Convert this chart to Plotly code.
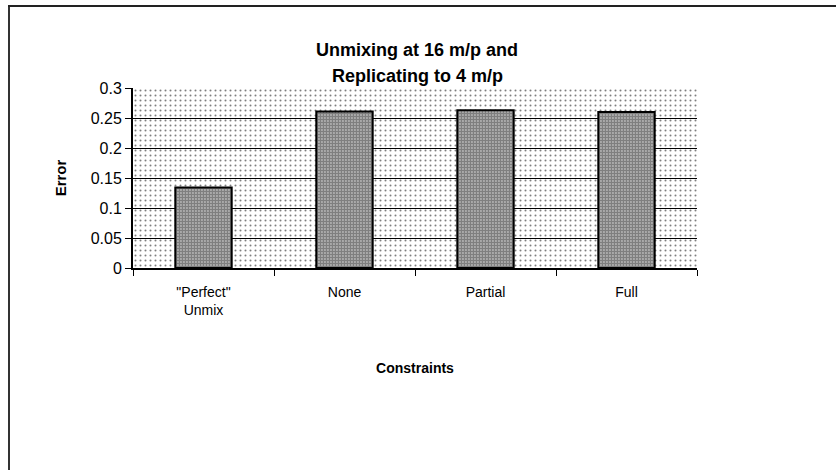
import plotly.graph_objects as go

# Data
categories = ['"Perfect"<br>Unmix', "None", "Partial", "Full"]
errors = [0.134, 0.261, 0.263, 0.260]
y_ticks = [0, 0.05, 0.1, 0.15, 0.2, 0.25, 0.3]
y_tick_labels = ["0", "0.05", "0.1", "0.15", "0.2", "0.25", "0.3"]
title_lines = ["Unmixing at 16 m/p and", "Replicating to 4 m/p"]

W, H = 836, 470
L, R, T, B = 133, 139, 88, 202  # plot-area margins in px

FONT = "Liberation Sans, Arial, sans-serif"


def px_x(px):
    return (px - L) / (W - L - R)


def px_y(py):
    return (H - B - py) / (H - T - B)


fig = go.Figure()

# Stippled plot-area background (drawn on its own hidden axes underneath)
fig.add_trace(go.Bar(
    x=[0.5], y=[1], width=[1],
    xaxis="x", yaxis="y",
    marker=dict(color="white", line=dict(width=0),
                pattern=dict(shape=".", fgcolor="black", bgcolor="white",
                             size=5, solidity=0.13)),
    hoverinfo="skip", showlegend=False,
))

# Error bars for each constraint setting
fig.add_trace(go.Bar(
    x=categories, y=errors, width=0.4,
    xaxis="x2", yaxis="y2",
    marker=dict(color="white", line=dict(color="black", width=2),
                pattern=dict(shape=".", fgcolor="black", bgcolor="white",
                             size=3, solidity=0.8)),
    showlegend=False,
))

annotations = [
    dict(text=f"<b>{line}</b>", xref="paper", yref="paper",
         x=px_x(417), y=px_y(yc), xanchor="center", yanchor="middle",
         showarrow=False, font=dict(family=FONT, size=18, color="black"))
    for line, yc in zip(title_lines, [50, 76])
]

fig.update_layout(
    width=W, height=H,
    margin=dict(l=L, r=R, t=T, b=B),
    paper_bgcolor="white",
    plot_bgcolor="rgba(0,0,0,0)",
    font=dict(family=FONT, color="black", size=14),
    xaxis=dict(range=[0, 1], visible=False, fixedrange=True),
    yaxis=dict(range=[0, 1], visible=False, fixedrange=True),
    xaxis2=dict(
        anchor="y2",
        tickson="boundaries", ticks="outside", ticklen=6, tickwidth=1,
        tickcolor="black",
        showline=True, linecolor="black", linewidth=2,
        showgrid=False,
        ticklabelstandoff=10,
        tickfont=dict(size=14, family=FONT),
        title=dict(text="Constraints", font=dict(size=14, family=FONT, weight="bold"),
                   standoff=46),
    ),
    yaxis2=dict(
        anchor="x2",
        range=[0, 0.3], tickvals=y_ticks, ticktext=y_tick_labels,
        ticks="outside", ticklen=6, tickcolor="black",
        showline=True, linecolor="black", linewidth=2,
        showgrid=True, gridcolor="black", gridwidth=1,
        zeroline=False,
        tickfont=dict(size=16, family=FONT),
        title=dict(text="Error", font=dict(size=15, family=FONT, weight="bold"),
                   standoff=20),
    ),
    annotations=annotations,
    shapes=[
        # outer chart frame (left and top edges)
        dict(type="line", xref="paper", yref="paper",
             x0=px_x(9), x1=px_x(9), y0=px_y(6), y1=px_y(H + 5),
             line=dict(color="#333333", width=2)),
        dict(type="line", xref="paper", yref="paper",
             x0=px_x(8), x1=px_x(W + 5), y0=px_y(6), y1=px_y(6),
             line=dict(color="#222222", width=2)),
    ],
)

fig.write_html("out.html")
